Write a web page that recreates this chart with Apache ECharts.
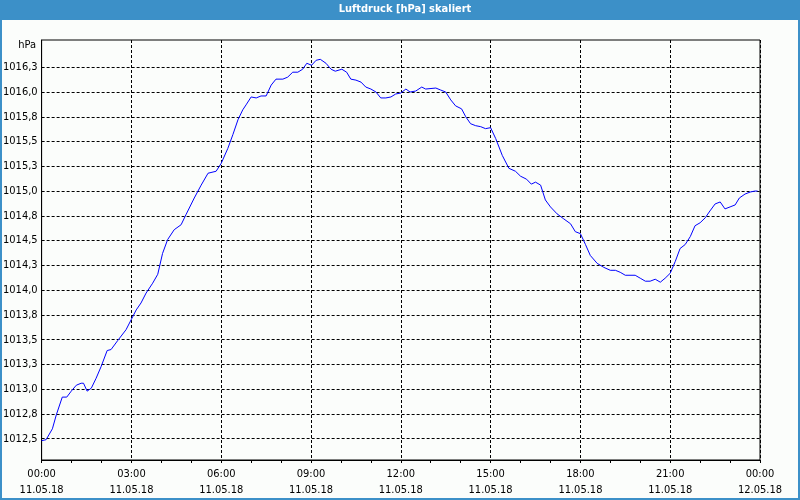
<!DOCTYPE html>
<html><head><meta charset="utf-8">
<script src="https://cdn.jsdelivr.net/npm/echarts@6/dist/echarts.min.js"></script>
<style>html,body{margin:0;padding:0;background:#fbfdfb}#c{width:800px;height:500px}</style>
</head><body><div id="c"></div>
<script>
const hours = [0.00,0.15,0.36,0.49,0.69,0.84,0.99,1.16,1.32,1.40,1.52,1.66,1.82,1.99,2.19,2.32,2.54,2.82,2.99,3.16,3.32,3.49,3.71,3.88,4.04,4.21,4.43,4.66,4.82,5.10,5.33,5.56,5.83,6.00,6.22,6.39,6.56,6.72,6.83,7.00,7.17,7.33,7.50,7.67,7.83,8.06,8.22,8.39,8.56,8.72,8.86,9.02,9.17,9.31,9.50,9.67,9.81,10.03,10.19,10.33,10.50,10.67,10.83,11.00,11.17,11.33,11.50,11.67,11.83,12.00,12.17,12.31,12.50,12.70,12.83,13.17,13.33,13.50,13.67,13.83,14.03,14.17,14.33,14.50,14.67,14.83,15.00,15.17,15.39,15.61,15.83,16.00,16.20,16.36,16.50,16.67,16.83,17.00,17.22,17.44,17.67,17.83,18.00,18.17,18.33,18.56,18.78,19.00,19.17,19.33,19.50,19.83,20.00,20.17,20.33,20.50,20.67,20.83,21.00,21.17,21.33,21.50,21.67,21.83,22.00,22.17,22.33,22.50,22.67,22.83,23.00,23.17,23.31,23.50,23.67,23.83,23.92];
const pressure = [1012.48,1012.49,1012.60,1012.74,1012.92,1012.92,1012.98,1013.04,1013.06,1013.06,1012.98,1013.01,1013.11,1013.23,1013.39,1013.40,1013.49,1013.60,1013.70,1013.80,1013.87,1013.97,1014.07,1014.16,1014.37,1014.51,1014.61,1014.66,1014.76,1014.93,1015.06,1015.18,1015.20,1015.28,1015.43,1015.57,1015.72,1015.82,1015.87,1015.95,1015.94,1015.96,1015.96,1016.07,1016.13,1016.13,1016.15,1016.20,1016.20,1016.23,1016.29,1016.27,1016.32,1016.33,1016.29,1016.23,1016.21,1016.23,1016.20,1016.13,1016.12,1016.10,1016.05,1016.03,1016.00,1015.94,1015.94,1015.95,1015.98,1015.99,1016.03,1016.00,1016.01,1016.05,1016.03,1016.04,1016.02,1016.00,1015.92,1015.86,1015.83,1015.75,1015.68,1015.66,1015.65,1015.63,1015.64,1015.53,1015.36,1015.23,1015.20,1015.15,1015.12,1015.07,1015.09,1015.06,1014.91,1014.84,1014.77,1014.72,1014.67,1014.59,1014.57,1014.46,1014.35,1014.27,1014.23,1014.20,1014.20,1014.18,1014.15,1014.15,1014.12,1014.09,1014.09,1014.11,1014.08,1014.12,1014.17,1014.29,1014.42,1014.46,1014.54,1014.65,1014.68,1014.73,1014.80,1014.87,1014.89,1014.82,1014.84,1014.86,1014.93,1014.97,1014.99,1015.00,1015.00];
const yTicks = [1012.5,1012.75,1013,1013.25,1013.5,1013.75,1014,1014.25,1014.5,1014.75,1015,1015.25,1015.5,1015.75,1016,1016.25];
const yTickLabels = ['1012,5','1012,8','1013,0','1013,3','1013,5','1013,8','1014,0','1014,3','1014,5','1014,8','1015,0','1015,3','1015,5','1015,8','1016,0','1016,3'];
const xTicks = [0,3,6,9,12,15,18,21,24];
const xTimeLabels = ['00:00','03:00','06:00','09:00','12:00','15:00','18:00','21:00','00:00'];
const xDateLabels = ['11.05.18','11.05.18','11.05.18','11.05.18','11.05.18','11.05.18','11.05.18','11.05.18','12.05.18'];
const yMin = 1012.285, yMax = 1016.525;
const titleText = 'Luftdruck [hPa] skaliert';
const unitText = 'hPa';

const FONT = "'Liberation Sans Narrow', 'DejaVu Sans Condensed', 'Liberation Sans', sans-serif";
const chart = echarts.init(document.getElementById('c'));
const dash = {color:'#000', type:[3,2], width:1};
function nearestIdx(arr, v){let b=0;for(let i=1;i<arr.length;i++){if(Math.abs(arr[i]-v)<Math.abs(arr[b]-v))b=i;}return b;}
chart.setOption({
  backgroundColor:'#fbfdfb',
  animation:false,
  graphic:[
    {type:'rect',z:0,shape:{x:0,y:0,width:800,height:20},style:{fill:'#3c90c8'}},
    {type:'rect',z:0,shape:{x:1,y:1,width:798,height:498},style:{fill:null,stroke:'#3c90c8',lineWidth:2}},
    {type:'text',z:10,style:{text:titleText,x:405,y:9,align:'center',verticalAlign:'middle',fill:'#fff',font:'bold 11px '+FONT}},
    {type:'text',z:10,style:{text:unitText,x:36,y:45,align:'right',verticalAlign:'middle',fill:'#000',font:'11px '+FONT}}
  ],
  grid:{left:40,right:40,top:40,bottom:40,show:true,borderColor:'#000',borderWidth:1,backgroundColor:'transparent'},
  xAxis:{type:'value',min:0,max:24,interval:3,
    axisLine:{show:true,onZero:false,lineStyle:{color:'#000',width:1}},
    axisTick:{show:true,length:3,lineStyle:{color:'#000'}},
    minorTick:{show:true,splitNumber:3,length:3,lineStyle:{color:'#000'}},
    splitLine:{show:true,lineStyle:dash},
    axisLabel:{margin:6,color:'#000',fontSize:11,fontFamily:FONT,lineHeight:16,
      formatter:function(v){const i=nearestIdx(xTicks,v);return xTimeLabels[i]+'\n'+xDateLabels[i];}}
  },
  yAxis:{type:'value',min:yMin,max:yMax,
    axisLine:{show:true,lineStyle:{color:'#000',width:1}},
    axisTick:{show:false,customValues:yTicks},
    splitLine:{show:true,lineStyle:dash},
    axisLabel:{customValues:yTicks,margin:4,color:'#000',fontSize:11,fontFamily:FONT,
      formatter:function(v){return yTickLabels[nearestIdx(yTicks,v)];}}
  },
  series:[{type:'line',data:hours.map((h,i)=>[h,pressure[i]]),showSymbol:false,symbol:'none',
    lineStyle:{color:'#0000ff',width:1},itemStyle:{color:'#0000ff'}}]
});
</script></body></html>
